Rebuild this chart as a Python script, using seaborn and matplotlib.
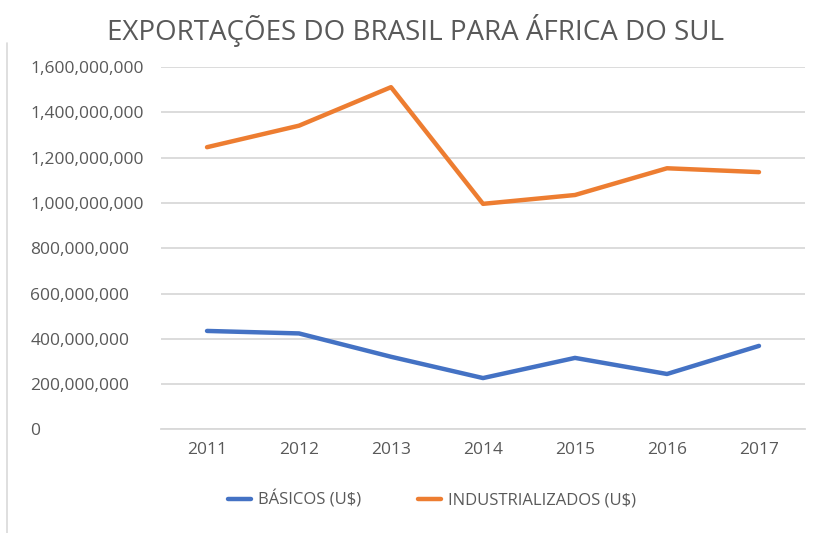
import matplotlib
matplotlib.use("Agg")
import matplotlib.pyplot as plt
import matplotlib.ticker as mticker
import seaborn as sns
import pandas as pd

years = ["2011", "2012", "2013", "2014", "2015", "2016", "2017"]
basicos = [435e6, 424e6, 321e6, 227e6, 316e6, 245e6, 369e6]
industrializados = [1246e6, 1341e6, 1511e6, 996e6, 1035e6, 1153e6, 1136e6]
series_names = ["BÁSICOS (U$)", "INDUSTRIALIZADOS (U$)"]

df = pd.DataFrame({
    "ano": years * 2,
    "valor": basicos + industrializados,
    "serie": [series_names[0]] * len(years) + [series_names[1]] * len(years),
})

sns.set_style("white")
plt.rcParams["font.family"] = ["Open Sans", "DejaVu Sans"]

text_color = "#595959"
grid_color = "#D9D9D9"

fig = plt.figure(figsize=(8.19, 5.33), dpi=100)
ax = fig.add_axes([0.1966, 0.1942, 0.7863, 0.6801])

sns.lineplot(
    data=df, x="ano", y="valor", hue="serie",
    palette=["#4472C4", "#ED7D31"], linewidth=3.2,
    sort=False, ax=ax, legend=True
)

ax.set_xlim(-0.5, 6.5)
ax.set_ylim(0, 1.6e9)
ax.yaxis.set_major_locator(mticker.MultipleLocator(2e8))
ax.yaxis.set_major_formatter(mticker.FuncFormatter(lambda v, p: f"{v:,.0f}"))
ax.grid(axis="y", color=grid_color, linewidth=1.3)
ax.set_axisbelow(True)
for side in ["top", "right", "left"]:
    ax.spines[side].set_visible(False)
ax.spines["bottom"].set_color(grid_color)
ax.spines["bottom"].set_linewidth(1.3)
ax.tick_params(axis="both", length=0, labelsize=12.5, labelcolor=text_color)
ax.tick_params(axis="y", pad=94)
for lbl in ax.get_yticklabels():
    lbl.set_horizontalalignment("left")
ax.tick_params(axis="x", pad=9)
ax.set_xlabel("")
ax.set_ylabel("")

handles, labels = ax.get_legend_handles_labels()
ax.get_legend().remove()
fig.legend(handles, labels, loc="center", bbox_to_anchor=(0.527, 0.062),
           ncol=2, frameon=False, fontsize=12, labelcolor=text_color,
           handlelength=1.4, columnspacing=3.4, handletextpad=0.4)

fig.text(0.507, 0.943, "EXPORTAÇÕES DO BRASIL PARA ÁFRICA DO SUL",
         ha="center", va="center", fontsize=20, color=text_color)

fig.add_artist(plt.Line2D([0.008, 0.008], [0.0, 0.92], transform=fig.transFigure,
                          color=grid_color, linewidth=1.2))

fig.savefig("out.png", dpi=100)
